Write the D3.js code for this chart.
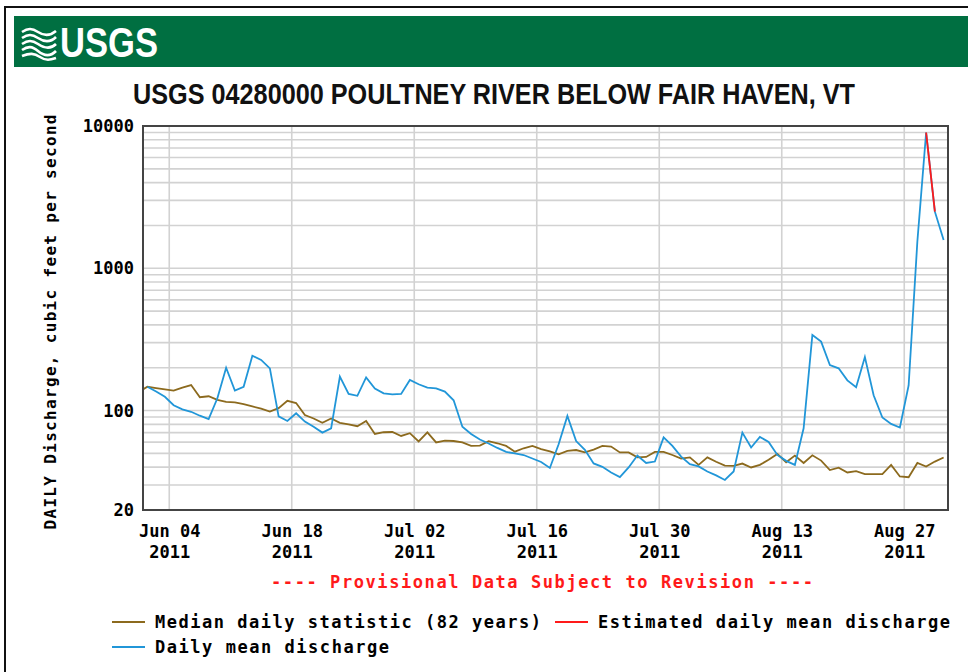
<!DOCTYPE html>
<html>
<head>
<meta charset="utf-8">
<script src="https://cdn.jsdelivr.net/npm/d3@7"></script>
<style>
  html, body { margin: 0; padding: 0; background: #fff; }
  svg { display: block; }
  .mono { font-family: "DejaVu Sans Mono", monospace; font-weight: bold; fill: #000; }
</style>
</head>
<body>
<svg id="chart" width="968" height="672"></svg>
<script>
// daily mean discharge, cfs, one value per day from Jun 1 2011
const dailyStart = new Date(2011, 5, 1);
const dailyMean = [
  147, 136, 125, 109, 102, 98, 92, 87, 122, 200,
  138, 147, 243, 227, 198, 91, 84.5, 95.7, 83.6, 77,
  70, 75, 173, 131, 127, 171, 143, 132, 130, 131,
  164, 153, 145, 143, 136, 118, 77, 68.5, 62.6, 58.7,
  54.6, 51.2, 50, 48.7, 46, 43.5, 39.5, 58, 91.6, 61,
  53, 42.5, 40.2, 36.7, 34.1, 39.8, 48.3, 42.8, 43.8, 64.7,
  56.4, 47.4, 42, 40.5, 37.3, 35, 32.5, 37.3, 70, 55,
  65.3, 60.2, 48.8, 44.3, 41.5, 75, 340, 305, 209, 198,
  163, 146, 238, 128, 89.4, 80.5, 76, 150, 1550, 9000,
  2500, 1580
];

// median daily statistic (82 years), from May 31
const medianStart = new Date(2011, 4, 31);
const medianDaily = [
  135, 147, 144, 141, 138, 145, 151, 124, 126, 119,
  115, 114, 111, 107, 103, 98.5, 104, 117, 113, 93,
  88, 82, 88, 82, 80, 77.6, 84.5, 68.5, 70.4, 70.7,
  66.3, 69.3, 60.7, 70.2, 59.7, 61.4, 61.1, 59.7, 56.4, 56.7,
  60.9, 58.9, 56.4, 51.4, 54.3, 56.4, 53.5, 51.6, 49.3, 52,
  52.8, 50.8, 53.2, 56.4, 55.8, 50.8, 50.8, 46.9, 47.2, 51.2,
  51.2, 48.7, 45.9, 46.9, 41.5, 46.9, 43.7, 41, 40.8, 42.4,
  39.8, 41.5, 45.1, 49.6, 43.3, 48.2, 42.8, 48.5, 44.5, 38.2,
  39.7, 36.7, 37.5, 35.8, 35.8, 35.8, 41.5, 34.4, 34, 42.8,
  40.4, 43.8, 46.8
];

// estimated daily mean discharge, from Aug 29
const estimatedStart = new Date(2011, 7, 29);
const estimatedMean = [9000, 2500];

const xTickDates = [
  new Date(2011, 5, 4), new Date(2011, 5, 18), new Date(2011, 6, 2),
  new Date(2011, 6, 16), new Date(2011, 6, 30), new Date(2011, 7, 13),
  new Date(2011, 7, 27)
];
const yTickValues = [20, 100, 1000, 10000];
const yGridValues = [
  30, 40, 50, 60, 70, 80, 90, 100, 200, 300, 400, 500, 600, 700, 800, 900,
  1000, 2000, 3000, 4000, 5000, 6000, 7000, 8000, 9000
];

const titleText = "USGS 04280000 POULTNEY RIVER BELOW FAIR HAVEN, VT";
const yTitleText = "DAILY Discharge, cubic feet per second";
const provisionalText = "---- Provisional Data Subject to Revision ----";
const legendLabels = [
  "Median daily statistic (82 years)",
  "Estimated daily mean discharge",
  "Daily mean discharge"
];

const colors = {
  daily: "#2196d8",
  median: "#8c6a1e",
  estimated: "#ff1a1a",
  grid: "#d2d2d2",
  banner: "#006f41"
};

const svg = d3.select("#chart");
const plot = { left: 143, right: 948, top: 126, bottom: 510 };

const x = d3.scaleTime()
  .domain([new Date(2011, 5, 1), new Date(2011, 8, 1)])
  .range([plot.left, plot.right]);
const y = d3.scaleLog()
  .domain([20, 10000])
  .range([plot.bottom, plot.top]);

function toSeries(start, values) {
  return values.map((v, i) => ({
    date: d3.timeHour.offset(d3.timeDay.offset(start, i), 12),
    value: v
  }));
}

// outer frame and banner
svg.append("rect").attr("x", 5).attr("y", 7).attr("width", 980).attr("height", 700)
  .attr("fill", "none").attr("stroke", "#111").attr("stroke-width", 2);
svg.append("rect").attr("x", 14).attr("y", 16).attr("width", 960).attr("height", 51)
  .attr("fill", colors.banner);

const logo = svg.append("g").attr("transform", "translate(22,26)");
const waves = [
  "M0,6 C6,2 10,2 16,6 S28,10 34,5",
  "M0,12 C6,8 10,8 16,12 S28,17 34,11",
  "M0,18 C6,14 10,14 16,18 S28,24 34,18",
  "M0,24 C6,20 10,20 16,25 S28,31 34,25",
  "M0,30 C8,27 12,27 18,31 S28,34 34,32"
];
logo.selectAll("path").data(waves).join("path")
  .attr("d", (d) => d).attr("fill", "none").attr("stroke", "#fff").attr("stroke-width", 2.6);
svg.append("text")
  .attr("x", 60).attr("y", 57)
  .attr("font-family", "'Liberation Sans Narrow', 'Liberation Sans', sans-serif")
  .attr("font-weight", "bold").attr("font-size", 42)
  .attr("textLength", 98).attr("lengthAdjust", "spacingAndGlyphs")
  .attr("fill", "#fff").text("USGS");

svg.append("text")
  .attr("x", 133).attr("y", 104)
  .attr("font-family", "'Liberation Sans Narrow', 'Liberation Sans', sans-serif")
  .attr("font-weight", "bold").attr("font-size", 29)
  .attr("textLength", 722).attr("lengthAdjust", "spacingAndGlyphs")
  .attr("fill", "#111").text(titleText);

// grid
const grid = svg.append("g");
grid.selectAll("line.h").data(yGridValues).join("line")
  .attr("class", "h")
  .attr("x1", plot.left).attr("x2", plot.right)
  .attr("y1", (d) => y(d)).attr("y2", (d) => y(d))
  .attr("stroke", colors.grid).attr("stroke-width", 1.6);
grid.selectAll("line.v").data(xTickDates).join("line")
  .attr("class", "v")
  .attr("x1", (d) => x(d)).attr("x2", (d) => x(d))
  .attr("y1", plot.top).attr("y2", plot.bottom)
  .attr("stroke", colors.grid).attr("stroke-width", 1.6);

// lines
svg.append("clipPath").attr("id", "plot-clip").append("rect")
  .attr("x", plot.left).attr("y", plot.top)
  .attr("width", plot.right - plot.left).attr("height", plot.bottom - plot.top);

const line = d3.line().x((d) => x(d.date)).y((d) => y(d.value));
const lines = svg.append("g").attr("clip-path", "url(#plot-clip)");

lines.append("path").datum(toSeries(medianStart, medianDaily))
  .attr("d", line).attr("fill", "none")
  .attr("stroke", colors.median).attr("stroke-width", 1.8);
lines.append("path").datum(toSeries(dailyStart, dailyMean))
  .attr("d", line).attr("fill", "none")
  .attr("stroke", colors.daily).attr("stroke-width", 1.8);
lines.append("path").datum(toSeries(estimatedStart, estimatedMean))
  .attr("d", line).attr("fill", "none")
  .attr("stroke", colors.estimated).attr("stroke-width", 1.8);

// frame
svg.append("rect")
  .attr("x", plot.left).attr("y", plot.top)
  .attr("width", plot.right - plot.left).attr("height", plot.bottom - plot.top)
  .attr("fill", "none").attr("stroke", "#444").attr("stroke-width", 2);

// axes
const fmtDay = d3.timeFormat("%b %d");
const xAxis = svg.append("g")
  .attr("transform", `translate(0,${plot.bottom})`)
  .call(d3.axisBottom(x).tickValues(xTickDates).tickSize(0).tickFormat(fmtDay));
xAxis.select(".domain").remove();
xAxis.selectAll(".tick text")
  .attr("class", "mono").attr("font-size", 17).attr("y", 0).attr("dy", null)
  .text(null)
  .each(function (d) {
    const t = d3.select(this);
    t.append("tspan").attr("x", 0).attr("y", 27).text(fmtDay(d));
    t.append("tspan").attr("x", 0).attr("y", 48).text(d3.timeFormat("%Y")(d));
  });

const yAxis = svg.append("g")
  .attr("transform", `translate(${plot.left},0)`)
  .call(d3.axisLeft(y).tickValues(yTickValues).tickSize(0).tickPadding(9).tickFormat(d3.format("d")));
yAxis.select(".domain").remove();
yAxis.selectAll(".tick text").attr("class", "mono").attr("font-size", 17);

svg.append("text")
  .attr("class", "mono")
  .attr("transform", "translate(56,322) rotate(-90)")
  .attr("text-anchor", "middle").attr("font-size", 16)
  .attr("textLength", 415).attr("lengthAdjust", "spacing")
  .text(yTitleText);

svg.append("text")
  .attr("class", "mono")
  .attr("x", 271).attr("y", 588)
  .attr("font-size", 17).attr("textLength", 542).attr("lengthAdjust", "spacing")
  .style("fill", "#ff1a1a").text(provisionalText);

// legend
const legendRows = [
  { label: legendLabels[0], color: colors.median, x: 112, y: 622, len: 386 },
  { label: legendLabels[1], color: colors.estimated, x: 555, y: 622, len: 352 },
  { label: legendLabels[2], color: colors.daily, x: 112, y: 647, len: 234 }
];
const legend = svg.append("g");
legendRows.forEach((row) => {
  legend.append("line")
    .attr("x1", row.x).attr("x2", row.x + 33)
    .attr("y1", row.y).attr("y2", row.y)
    .attr("stroke", row.color).attr("stroke-width", 2);
  legend.append("text")
    .attr("class", "mono")
    .attr("x", row.x + 43).attr("y", row.y + 6)
    .attr("font-size", 17).attr("textLength", row.len).attr("lengthAdjust", "spacing")
    .text(row.label);
});
</script>
</body>
</html>
